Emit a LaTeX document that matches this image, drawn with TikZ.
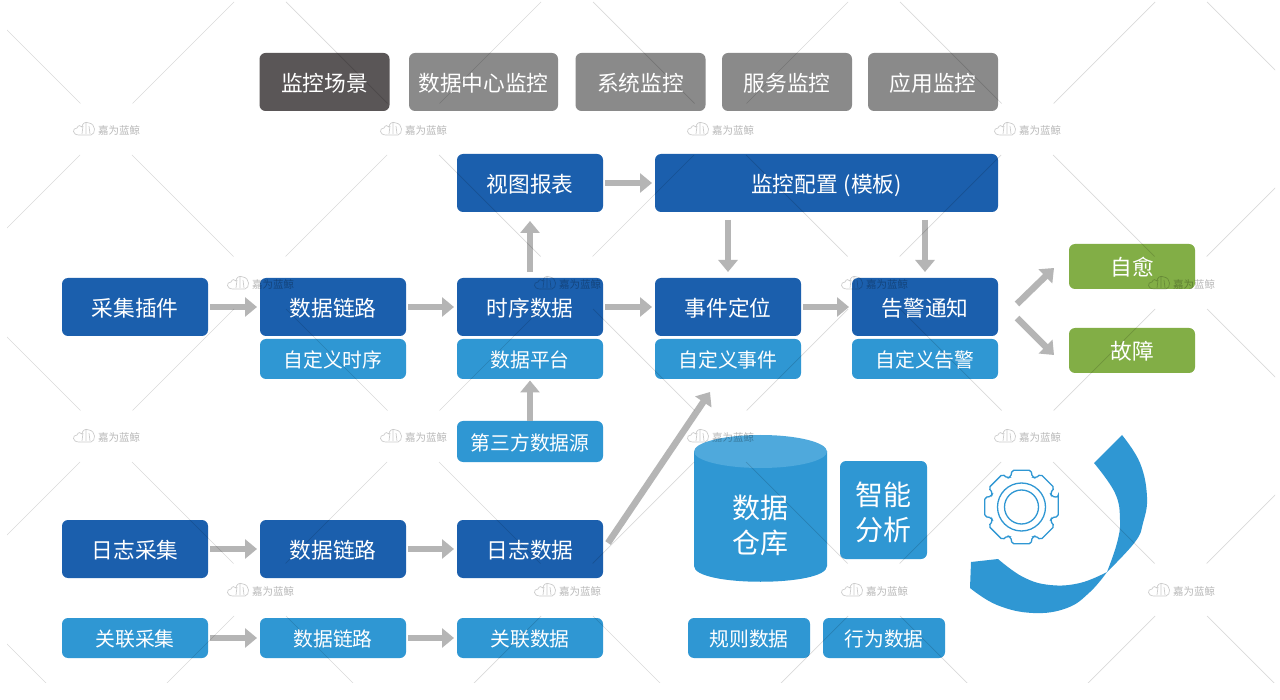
\documentclass[tikz,border=0pt]{standalone}
\usepackage{fontspec}
\setmainfont{Noto Sans CJK SC}
\usetikzlibrary{arrows.meta}
\definecolor{darkblue}{HTML}{1B5FAD}
\definecolor{lightblue}{HTML}{2F97D3}
\definecolor{topblue}{HTML}{4FA9DC}
\definecolor{leaf}{HTML}{82AE46}
\definecolor{scene}{HTML}{5A5657}
\definecolor{greybox}{HTML}{8A8A8A}
\definecolor{arrowgrey}{HTML}{B5B5B5}
\tikzset{
  basebox/.style={rounded corners=6pt,inner sep=0pt,outer sep=0pt,text=white,align=center},
  sized/.style n args={2}{minimum width=#1pt,minimum height=#2pt},
  bigfont/.style={font=\fontsize{21.7}{26}\selectfont,text height=18.5pt,text depth=0pt},
  smallfont/.style={font=\fontsize{19.8}{24}\selectfont,text height=17pt,text depth=0pt},
  mainbox/.style={basebox,fill=darkblue,bigfont},
  subbox/.style={basebox,fill=lightblue,smallfont},
  topbox/.style={basebox,fill=greybox,sized={130}{58},bigfont},
  greenbox/.style={basebox,fill=leaf,sized={126}{45},bigfont},
  biglabel/.style={text=white,align=center,inner sep=0pt,font=\fontsize{28}{35}\selectfont},
  flow/.style={draw=arrowgrey,line width=6.5pt,-{Triangle[length=12pt,width=19pt]},shorten <=2pt,shorten >=3pt},
  freeflow/.style={flow,shorten <=0pt,shorten >=0pt},
  wmline/.style={draw=black,draw opacity=.15,line width=.7pt},
  wmtext/.style={text=black,text opacity=.28,inner sep=0pt,font=\fontsize{10.5}{12}\selectfont},
  wmicon/.style={draw=black,draw opacity=.2,line width=.7pt},
}
\begin{document}
\begin{tikzpicture}[x=1pt,y=-1pt]
\fill[white] (0,0) rectangle (1280,700);
\path[use as bounding box] (0,0) rectangle (1280,700);

% top row
\node[topbox,fill=scene] (t1) at (324.5,82) {监控场景};
\node[topbox,sized={149}{58}] (t2) at (483.5,82) {数据中心监控};
\node[topbox] (t3) at (640.5,82) {系统监控};
\node[topbox] (t4) at (787,82) {服务监控};
\node[topbox] (t5) at (933,82) {应用监控};

% upper rows
\node[mainbox,sized={146}{58}] (view) at (530,183) {视图报表};
\node[mainbox,sized={343}{58}] (conf) at (826.5,183) {监控配置\hspace{1pt} (模板)};
\node[mainbox,sized={146}{58}] (coll) at (135,307) {采集插件};
\node[mainbox,sized={146}{58}] (link) at (333,307) {数据链路};
\node[mainbox,sized={146}{58}] (ts) at (530,307) {时序数据};
\node[mainbox,sized={146}{58}] (evt) at (728,307) {事件定位};
\node[mainbox,sized={146}{58}] (alarm) at (925,307) {告警通知};
\node[subbox,sized={146}{40}] (subts) at (333,359) {自定义时序};
\node[subbox,sized={146}{40}] (plat) at (530,359) {数据平台};
\node[subbox,sized={146}{40}] (subevt) at (728,359) {自定义事件};
\node[subbox,sized={146}{40}] (subal) at (925,359) {自定义告警};
\node[subbox,sized={146}{41}] (third) at (530,441.5) {第三方数据源};
\node[greenbox] (heal) at (1132,266.5) {自愈};
\node[greenbox] (fault) at (1132,350.5) {故障};

% log rows
\node[mainbox,sized={146}{58}] (logc) at (135,549) {日志采集};
\node[mainbox,sized={146}{58}] (logl) at (333,549) {数据链路};
\node[mainbox,sized={146}{58}] (logd) at (530,549) {日志数据};
\node[subbox,sized={146}{40}] (relc) at (135,638) {关联采集};
\node[subbox,sized={146}{40}] (rell) at (333,638) {数据链路};
\node[subbox,sized={146}{40}] (reld) at (530,638) {关联数据};
\node[subbox,sized={122}{40}] (rule) at (749,638) {规则数据};
\node[subbox,sized={122}{40}] (behav) at (884,638) {行为数据};

% warehouse
\fill[lightblue] (694,451) -- (694,566) .. controls (694,587) and (827,587) .. (827,566) -- (827,451) -- cycle;
\fill[topblue] (760.5,451.5) ellipse[x radius=66.5,y radius=16.5];
\node[biglabel] (ware) at (760.5,525) {数据\\仓库};
\node[basebox,fill=lightblue,sized={87}{98}] (smart) at (883.5,510) {};
\node[biglabel] (smartlabel) at (883.5,512) {智能\\分析};

% crescent
\fill[lightblue] plot[smooth,tension=.7] coordinates {(1122,435) (1140,463) (1147,497) (1143,523) (1135,542) (1107,572)}
  -- plot[smooth,tension=.7] coordinates {(1107,572) (1080,583) (1050,585) (1023,577) (998,559)}
  -- (971,562) -- (970,588)
  -- plot[smooth,tension=.7] coordinates {(970,588) (997,605) (1033,613) (1067,608) (1090,592) (1107,572)}
  -- plot[smooth,tension=.7] coordinates {(1107,572) (1117,543) (1120,520) (1115,493) (1094,463)}
  -- cycle;

% gear
\begin{scope}[shift={(1021.5,507)},draw=lightblue,line width=1.3pt]
\draw[rounded corners=2pt] (-15:38) \foreach \a in {0,45,...,315}{ -- (\a-15:38) -- (\a+15:38) -- (\a+19:32) -- (\a+26:32)} -- cycle;
\draw (0,0) circle[radius=24];
\draw (0,0) circle[radius=17];
\end{scope}

% connectors
\draw[flow] (coll.east) -- (link.west);
\draw[flow] (link.east) -- (ts.west);
\draw[flow] (ts.east) -- (evt.west);
\draw[flow] (evt.east) -- (alarm.west);
\draw[flow,shorten <=6pt,shorten >=9pt] (ts.north) -- (view.south);
\draw[flow] (view.east) -- (conf.west);
\draw[flow,shorten <=8pt,shorten >=6pt] (evt.north |- conf.south) -- (evt.north);
\draw[flow,shorten <=8pt,shorten >=6pt] (alarm.north |- conf.south) -- (alarm.north);
\draw[flow,shorten >=1.5pt,shorten <=0pt] (third.north) -- (plat.south);
\draw[flow] (logc.east) -- (logl.west);
\draw[flow] (logl.east) -- (logd.west);
\draw[flow] (relc.east) -- (rell.west);
\draw[flow] (rell.east) -- (reld.west);
\draw[freeflow] ([xshift=5pt,yshift=6pt]logd.east) -- ([xshift=-18pt,yshift=-13pt]subevt.south);
\draw[freeflow] ([xshift=19pt,yshift=3pt]alarm.east) -- ([xshift=-15pt,yshift=-1.5pt]heal.west);
\draw[freeflow] ([xshift=19pt,yshift=-11pt]alarm.east) -- ([xshift=-15pt,yshift=-4.5pt]fault.west);

% watermark
\begin{scope}
\clip (7,2) rectangle (1275,682);
\foreach \cx/\cy in {-47/-24,260/-24,567/-24,874/-24,1181/-24,
  106/129,413/129,720/129,1027/129,1334/129,
  -47/283,260/283,567/283,874/283,1181/283,
  106/436,413/436,720/436,1027/436,1334/436,
  -47/590,260/590,567/590,874/590,1181/590}{
  \draw[wmline] (\cx+26,\cy+26) -- (\cx+127.5,\cy+127.5);
  \draw[wmline] (\cx-26,\cy+26) -- (\cx-127.5,\cy+127.5);
}
\end{scope}
\foreach \cx/\cy [count=\i] in {106/129,413/129,720/129,1027/129,
  260/283,567/283,874/283,1181/283,
  106/436,413/436,720/436,1027/436,
  260/590,567/590,874/590,1181/590}{
  \node[wmtext] (wm\i) at (\cx+13,\cy+1) {嘉为蓝鲸};
  \begin{scope}[shift={(\cx-34,\cy-8)}]
    \draw[wmicon] (7,14) .. controls (0,14) and (0,7) .. (5,7) .. controls (6,4) and (9,4) .. (10,6);
    \draw[wmicon] (7,14) -- (19,14) .. controls (24,13) and (24,3) .. (17,2) .. controls (13,0) and (10,3) .. (10,6);
    \draw[wmicon] (10,13) -- (11,5) (14,13) -- (14,2) (18,13) -- (17,5);
  \end{scope}
}
\end{tikzpicture}
\end{document}
